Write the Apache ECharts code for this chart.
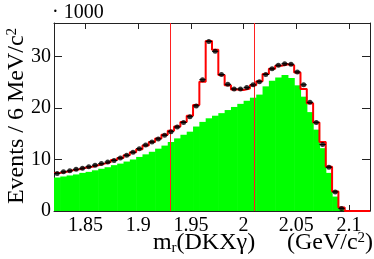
<!DOCTYPE html>
<html>
<head>
<meta charset="utf-8">
<script src="https://cdn.jsdelivr.net/npm/echarts@6/dist/echarts.min.js"></script>
<style>
html,body{margin:0;padding:0;background:#fff;}
#chart{width:374px;height:259px;}
</style>
</head>
<body>
<div id="chart"></div>
<script>
// Bin low edges (GeV/c^2), 6 MeV wide bins
const binLow = [1.820,1.826,1.832,1.838,1.844,1.850,1.856,1.862,1.868,1.874,
                1.880,1.886,1.892,1.898,1.904,1.910,1.916,1.922,1.928,1.934,
                1.940,1.946,1.952,1.958,1.964,1.970,1.976,1.982,1.988,1.994,
                2.000,2.006,2.012,2.018,2.024,2.030,2.036,2.042,2.048,2.054,
                2.060,2.066,2.072,2.078,2.084,2.090,2.096,2.102,2.108,2.114];
const binWidth = 0.006;
// Data points (x1000 events)
const dataVals = [7.3,7.6,7.8,8.1,8.3,8.6,8.9,9.2,9.5,9.8,
                  10.3,10.8,11.4,12.1,12.8,13.4,14.0,14.7,15.4,16.3,
                  17.2,18.3,20.4,25.5,32.9,31.0,26.5,24.6,23.7,23.7,
                  24.0,24.5,25.1,26.5,27.6,28.3,28.6,28.5,27.0,24.5,
                  21.1,17.2,12.9,8.5,3.7,0.5];
// Total fit (red step)
const fitVals = [7.4,7.6,7.9,8.1,8.4,8.6,8.9,9.2,9.5,9.9,
                 10.3,10.8,11.4,12.0,12.7,13.4,14.1,14.8,15.6,16.4,
                 17.3,18.5,20.6,25.1,33.0,31.3,26.4,24.4,23.6,23.5,
                 23.8,24.4,25.2,26.6,27.6,28.2,28.5,28.3,26.9,23.7,
                 20.9,17.2,13.4,8.6,3.8,0.7,0,0,0,0];
// Background (green)
const bkgVals = [6.5,6.7,6.9,7.1,7.4,7.6,7.9,8.2,8.5,8.9,
                 9.2,9.6,10.0,10.5,11.0,11.5,12.1,12.7,13.4,14.1,
                 14.8,15.4,16.4,17.3,18.0,18.5,19.0,19.6,20.2,20.8,
                 21.4,22.0,22.6,24.2,25.3,25.9,26.4,25.8,24.4,22.2,
                 19.2,15.8,12.2,7.4,2.8,0.3,0,0,0,0];
const cuts = [1.934, 2.012];
const xTicks = [1.85, 1.9, 1.95, 2, 2.05, 2.1];
const yTicks = [0, 10, 20, 30];
const xMin = 1.82, xMax = 2.12, yMin = 0, yMax = 36.5;

const FONT = '"Liberation Serif", "Times New Roman", serif';
const AX = '#222';

// step polyline for red fit
const stepData = [];
fitVals.forEach((v, i) => {
  stepData.push([binLow[i], v]);
  stepData.push([binLow[i] + binWidth, v]);
});
const bkgData = bkgVals.map((v, i) => [binLow[i], binLow[i] + binWidth, v]);
const ptData = dataVals.map((v, i) => [binLow[i] + binWidth / 2, v]);
const errData = dataVals.map((v, i) => [binLow[i], binLow[i] + binWidth, v]);

const chart = echarts.init(document.getElementById('chart'), null, {renderer: 'canvas'});

function baseX(extra) {
  return Object.assign({
    type: 'value', min: xMin, max: xMax,
    axisLine: {show: true, onZero: false, lineStyle: {color: AX, width: 1}},
    axisTick: {show: true, inside: true, length: 6, customValues: xTicks, lineStyle: {color: AX}},
    splitLine: {show: false},
    minorTick: {show: false}
  }, extra);
}
function baseY(extra) {
  return Object.assign({
    type: 'value', min: yMin, max: yMax,
    axisLine: {show: true, onZero: false, lineStyle: {color: AX, width: 1}},
    axisTick: {show: true, inside: true, length: 8, customValues: yTicks, lineStyle: {color: AX}},
    splitLine: {show: false},
    minorTick: {show: false}
  }, extra);
}

const option = {
  animation: false,
  backgroundColor: '#fff',
  grid: {left: 54, right: 4, top: 23, bottom: 48, containLabel: false},
  xAxis: [
    baseX({position: 'bottom',
      axisLabel: {show: true, customValues: xTicks, margin: 5, color: '#000',
        fontFamily: FONT, fontSize: 20, formatter: v => String(v)}}),
    baseX({position: 'top', axisLabel: {show: false}})
  ],
  yAxis: [
    baseY({position: 'left',
      axisLabel: {show: true, customValues: yTicks, margin: 3, color: '#000',
        fontFamily: FONT, fontSize: 20}}),
    baseY({position: 'right', axisLabel: {show: false}})
  ],
  graphic: [
    {type: 'text', left: 52, top: 3, z: 10,
      style: {text: '\u00b7 1000', fontFamily: FONT, fontSize: 20, fill: '#000'}},
    {type: 'text', x: 17, y: 116, rotation: Math.PI / 2, z: 10,
      style: {text: 'Events / 6 MeV/c{sup|2}', fontFamily: FONT, fontSize: 24, fill: '#000',
        align: 'center', verticalAlign: 'middle',
        rich: {sup: {fontFamily: FONT, fontSize: 15, fill: '#000', verticalAlign: 'top', padding: [0, 0, 10, 0]}}}},
    {type: 'text', x: 204, y: 243, z: 10,
      style: {text: 'm{sub|r}(DKX\u03b3)', fontFamily: FONT, fontSize: 24, fill: '#000',
        align: 'center', verticalAlign: 'middle',
        rich: {sub: {fontFamily: FONT, fontSize: 15, fill: '#000', verticalAlign: 'bottom', padding: [10, 0, 0, 0]}}}},
    {type: 'text', x: 330, y: 243, z: 10,
      style: {text: '(GeV/c{sup|2})', fontFamily: FONT, fontSize: 24, fill: '#000',
        align: 'center', verticalAlign: 'middle',
        rich: {sup: {fontFamily: FONT, fontSize: 15, fill: '#000', verticalAlign: 'top', padding: [0, 0, 10, 0]}}}}
  ],
  series: [
    {
      name: 'bkg', type: 'custom', xAxisIndex: 0, yAxisIndex: 0, z: 1,
      data: bkgData, clip: true,
      encode: {x: [0, 1], y: 2},
      renderItem: function (params, api) {
        const p0 = api.coord([api.value(0), api.value(2)]);
        const p1 = api.coord([api.value(1), 0]);
        return {type: 'rect',
          shape: {x: p0[0], y: p0[1], width: p1[0] - p0[0] + 0.6, height: p1[1] - p0[1]},
          style: {fill: '#00ff00'}};
      }
    },
    {
      name: 'cuts', type: 'line', data: [], z: 2,
      markLine: {silent: true, symbol: ['none', 'none'], label: {show: false},
        lineStyle: {color: '#ff2020', width: 1, type: 'solid'},
        data: cuts.map(c => ({xAxis: c}))}
    },
    {
      name: 'fit', type: 'line', data: stepData, z: 3, showSymbol: false, symbol: 'none',
      lineStyle: {color: '#ff0000', width: 2}, clip: true
    },
    {
      name: 'err', type: 'custom', z: 4, data: errData, encode: {x: [0, 1], y: 2},
      renderItem: function (params, api) {
        const a = api.coord([api.value(0), api.value(2)]);
        const b = api.coord([api.value(1), api.value(2)]);
        return {type: 'line', shape: {x1: a[0], y1: a[1], x2: b[0], y2: b[1]},
          style: {stroke: '#000', lineWidth: 1}};
      }
    },
    {
      name: 'data', type: 'scatter', data: ptData, z: 5, symbol: 'circle', symbolSize: 5,
      itemStyle: {color: '#000'}
    }
  ]
};
chart.setOption(option);
</script>
</body>
</html>
